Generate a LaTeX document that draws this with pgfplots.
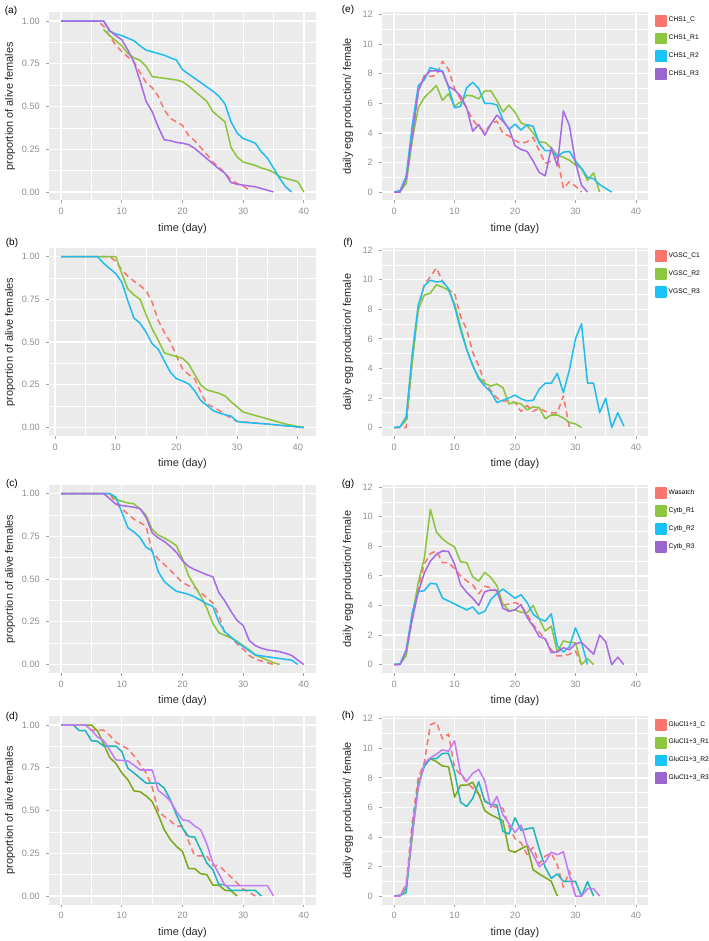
\documentclass[border=0pt]{standalone}
\usepackage{pgfplots}
\pgfplotsset{compat=1.18}
\usepackage{fontspec}
\setmainfont{Liberation Sans}

\definecolor{panelgray}{HTML}{EBEBEB}
\definecolor{labgray}{HTML}{8F8F8F}
\definecolor{tickgray}{HTML}{A0A0A0}
\definecolor{cRed}{HTML}{F8766D}
\definecolor{cGreen}{HTML}{8CC43C}
\definecolor{cCyan}{HTML}{22BDEE}
\definecolor{cPurple}{HTML}{A96AE6}
\definecolor{dGreen}{HTML}{7CA81A}
\definecolor{dTeal}{HTML}{1FB5BA}
\definecolor{dPurple}{HTML}{C47BFA}
\definecolor{lGreen}{HTML}{8DC63F}
\definecolor{lCyan}{HTML}{19C3F5}
\definecolor{lPurple}{HTML}{9966CC}

\pgfplotsset{
  gg/.style={
    scale only axis, height=141pt,
    axis background/.style={fill=panelgray},
    axis line style={draw=none},
    tick align=outside, tick pos=left,
    major tick length=2.2pt, minor tick length=0pt,
    tick style={color=tickgray, line width=0.6pt},
    grid=both,
    major grid style={white, line width=1pt},
    minor grid style={white, line width=0.45pt},
    xtick={0,10,20,30,40}, xticklabels={0,10,20,30,40},
    minor xtick={5,15,25,35},
    ticklabel style={font=\fontsize{6.9}{7.5}\selectfont, color=labgray},
    yticklabel style={xshift=-1.2pt},
    label style={font=\fontsize{8.2}{9}\selectfont, color=black!85},
    xlabel={time (day)},
    xlabel style={at={(axis description cs:0.5,-0.149)}, anchor=center},
    every axis plot/.append style={line width=1.15pt, line join=round},
  },
  surv/.style={gg, width=200.25pt, xmin=-2, xmax=42, ymin=-0.05, ymax=1.05,
    ytick={0,0.25,0.5,0.75,1}, yticklabels={0.00,0.25,0.50,0.75,1.00},
    minor ytick={0.125,0.375,0.625,0.875},
    ylabel={proportion of alive females},
    ylabel style={at={(axis description cs:-0.146,0.5)}, anchor=center}},
  egg/.style={gg, width=199.5pt, xmin=-2, xmax=42, ymin=-0.57, ymax=12.15,
    ytick={0,2,4,6,8,10,12}, yticklabels={0,2,4,6,8,10,12},
    minor ytick={1,3,5,7,9,11},
    ylabel={daily egg production/ female},
    ylabel style={at={(axis description cs:-0.128,0.5)}, anchor=center},
    legend style={draw=none, fill=none, at={(axis description cs:1.026,0.99)},
      anchor=north west, font=\fontsize{5}{5.5}\selectfont, row sep=4.5pt,
      inner sep=0pt, nodes={inner sep=1.5pt}},
    legend cell align=left,
    legend image code/.code={\fill[##1] (0pt,-3.9pt) rectangle (7.5pt,3.9pt);}},
  dsh/.style={dash pattern=on 4.5pt off 3pt},
}

\begin{document}
\begin{tikzpicture}
\path[use as bounding box] (0pt,0pt) rectangle (531.75pt,705.75pt);

% (a)
\begin{axis}[surv, at={(36.75pt,555.375pt)}, anchor=south west]
\addplot[cRed, dsh] coordinates {(0,1)(6,1)(7,0.97)(8,0.91)(9,0.86)(10,0.82)(11,0.79)(12,0.76)(13,0.70)(14,0.64)(15,0.61)(16,0.56)(17,0.48)(18,0.43)(19,0.41)(20,0.39)(21,0.33)(22,0.30)(23,0.26)(24,0.22)(25,0.175)(26,0.145)(27,0.11)(28,0.07)(29,0.05)(30,0.035)(31,0.01)};
\addplot[cGreen] coordinates {(7,0.95)(8,0.915)(9,0.885)(10,0.855)(11,0.81)(12,0.785)(13,0.77)(14,0.735)(15,0.675)(16,0.67)(17,0.665)(18,0.66)(19,0.655)(20,0.645)(21,0.62)(22,0.59)(23,0.56)(24,0.53)(25,0.47)(26,0.44)(27,0.41)(28,0.26)(29,0.205)(30,0.175)(31,0.165)(32,0.155)(33,0.14)(34,0.13)(35,0.115)(36,0.09)(37,0.08)(38,0.07)(39,0.06)(40,0)};
\addplot[cCyan] coordinates {(0,1)(7,1)(8,0.94)(9,0.925)(10,0.915)(11,0.90)(12,0.885)(13,0.855)(14,0.83)(15,0.82)(16,0.81)(17,0.80)(18,0.785)(19,0.772)(20,0.715)(21,0.69)(22,0.665)(23,0.64)(24,0.615)(25,0.59)(26,0.56)(27,0.515)(28,0.41)(29,0.345)(30,0.312)(31,0.30)(32,0.285)(33,0.235)(34,0.197)(35,0.14)(36,0.08)(37,0.03)(38,0)};
\addplot[cPurple] coordinates {(0,1)(7,1)(8,0.945)(9,0.915)(10,0.89)(11,0.83)(12,0.76)(13,0.65)(14,0.53)(15,0.47)(16,0.38)(17,0.305)(18,0.30)(19,0.29)(20,0.285)(21,0.277)(22,0.255)(23,0.225)(24,0.195)(25,0.165)(26,0.135)(27,0.11)(28,0.055)(29,0.045)(30,0.04)(31,0.035)(32,0.03)(33,0.02)(34,0.01)(35,0)};
\end{axis}

% (b)
\begin{axis}[surv, xmin=-1, xmax=43, at={(36.75pt,378.75pt)}, anchor=south west]
\addplot[cRed, dsh] coordinates {(1,1)(9,1)(10,0.973)(11,0.92)(12,0.885)(13,0.856)(14,0.83)(15,0.80)(16,0.733)(17,0.626)(18,0.557)(19,0.50)(20,0.42)(21,0.343)(22,0.31)(23,0.285)(24,0.207)(25,0.138)(26,0.12)(27,0.10)(28,0.075)(29,0.055)(30,0.035)(32,0.03)(35,0.02)(38,0.01)(41,0)};
\addplot[cGreen] coordinates {(1,1)(10,1)(11,0.90)(12,0.81)(13,0.775)(14,0.75)(15,0.66)(16,0.577)(17,0.51)(18,0.437)(19,0.425)(20,0.415)(21,0.405)(22,0.372)(23,0.31)(24,0.25)(25,0.22)(26,0.21)(27,0.20)(28,0.185)(29,0.15)(30,0.12)(31,0.09)(32,0.08)(33,0.07)(34,0.06)(35,0.05)(36,0.04)(37,0.03)(38,0.02)(39,0.013)(40,0.006)(41,0)};
\addplot[cCyan] coordinates {(1,1)(7,1)(8,0.96)(9,0.93)(10,0.90)(11,0.85)(12,0.74)(13,0.64)(14,0.61)(15,0.557)(16,0.49)(17,0.458)(18,0.39)(19,0.323)(20,0.285)(21,0.272)(22,0.255)(23,0.215)(24,0.158)(25,0.13)(26,0.10)(27,0.085)(28,0.075)(29,0.066)(30,0.035)(31,0.03)(35,0.02)(38,0.01)(41,0)};
\end{axis}

% (c)
\begin{axis}[surv, at={(36.75pt,201pt)}, anchor=south west]
\addplot[cRed, dsh] coordinates {(0,1)(8,1)(9,0.944)(10,0.91)(11,0.88)(12,0.85)(13,0.83)(14,0.81)(15,0.66)(16,0.617)(17,0.585)(18,0.55)(19,0.515)(20,0.48)(21,0.46)(22,0.45)(23,0.42)(24,0.39)(25,0.36)(26,0.286)(27,0.18)(28,0.155)(29,0.12)(30,0.09)(31,0.052)(32,0.03)(33,0.02)(34,0.01)(35,0)};
\addplot[cGreen] coordinates {(0,1)(8,1)(9,0.967)(10,0.955)(11,0.945)(12,0.94)(13,0.91)(14,0.873)(15,0.79)(16,0.757)(17,0.74)(18,0.72)(19,0.695)(20,0.617)(21,0.52)(22,0.46)(23,0.40)(24,0.33)(25,0.24)(26,0.185)(27,0.17)(28,0.155)(29,0.135)(30,0.11)(31,0.085)(32,0.055)(33,0.04)(34,0.025)(35,0.01)(36,0)};
\addplot[cCyan] coordinates {(0,1)(8,1)(9,0.98)(10,0.89)(11,0.80)(12,0.775)(13,0.743)(14,0.685)(15,0.665)(16,0.543)(17,0.485)(18,0.455)(19,0.428)(20,0.42)(21,0.41)(22,0.395)(23,0.375)(24,0.355)(25,0.34)(26,0.247)(27,0.19)(28,0.16)(29,0.13)(30,0.105)(31,0.08)(32,0.056)(33,0.05)(34,0.045)(35,0.04)(36,0.035)(37,0.03)(38,0.025)(39,0)};
\addplot[cPurple] coordinates {(0,1)(7,1)(8,0.97)(9,0.938)(10,0.93)(11,0.925)(12,0.92)(13,0.912)(14,0.86)(15,0.77)(16,0.74)(17,0.72)(18,0.69)(19,0.656)(20,0.607)(21,0.574)(22,0.555)(23,0.54)(24,0.525)(25,0.513)(26,0.42)(27,0.37)(28,0.31)(29,0.257)(30,0.228)(31,0.14)(32,0.11)(33,0.095)(34,0.085)(35,0.08)(36,0.075)(37,0.065)(38,0.053)(39,0.025)(40,0)};
\end{axis}

% (d)
\begin{axis}[surv, at={(36.75pt,27.375pt)}, anchor=south west]
\addplot[cRed, dsh] coordinates {(0,1)(4,1)(5,0.97)(7,0.97)(8,0.94)(9,0.90)(10,0.88)(11,0.86)(12,0.82)(13,0.77)(14,0.72)(15,0.636)(16,0.50)(17,0.465)(18,0.44)(19,0.407)(20,0.41)(21,0.32)(22,0.235)(24,0.235)(25,0.177)(26,0.177)(27,0.144)(28,0.11)(29,0.076)(30,0.04)(31,0.02)(32,0)};
\addplot[dGreen] coordinates {(0,1)(5,1)(6,0.965)(7,0.89)(8,0.81)(9,0.776)(10,0.72)(11,0.68)(12,0.615)(13,0.61)(14,0.585)(15,0.552)(16,0.475)(17,0.387)(18,0.33)(19,0.29)(20,0.26)(21,0.16)(22,0.16)(23,0.13)(24,0.125)(25,0.064)(26,0.064)(27,0.033)(28,0.03)(29,0)};
\addplot[dTeal] coordinates {(0,1)(2,1)(3,0.967)(4,0.967)(5,0.908)(6,0.905)(7,0.877)(9,0.877)(10,0.845)(11,0.747)(12,0.72)(13,0.69)(14,0.66)(16,0.66)(17,0.63)(18,0.562)(19,0.475)(20,0.397)(21,0.348)(22,0.345)(23,0.27)(24,0.193)(25,0.154)(26,0.066)(27,0.066)(28,0.033)(32,0.033)(33,0)};
\addplot[dPurple] coordinates {(0,1)(4,1)(5,0.97)(6,0.93)(7,0.91)(8,0.855)(9,0.796)(11,0.79)(12,0.765)(13,0.737)(15,0.737)(16,0.617)(17,0.59)(18,0.555)(19,0.494)(20,0.445)(21,0.44)(22,0.41)(23,0.387)(24,0.305)(25,0.193)(26,0.13)(27,0.06)(34,0.06)(35,0)};
\end{axis}

% (e)
\begin{axis}[egg, at={(286.5pt,555.375pt)}, anchor=south west]
\addplot[cRed, dsh, forget plot] coordinates {(0,0)(1,0.05)(2,0.9)(3,3.5)(4,6.8)(5,7.9)(6,7.83)(7,7.9)(8,8.85)(9,8.3)(10,7.0)(11,6.3)(12,5.7)(13,4.9)(14,4.4)(15,4.07)(16,4.6)(17,4.8)(18,3.96)(19,3.8)(20,3.5)(21,3.29)(22,3.4)(23,3.69)(24,2.8)(25,1.94)(26,2.1)(27,2.4)(28,0.25)(29,0.7)(30,0.4)(31,0)};
\addplot[cGreen, forget plot] coordinates {(0,0)(1,0.05)(2,0.58)(3,3.5)(4,5.7)(5,6.4)(6,6.8)(7,7.2)(8,6.2)(9,6.66)(10,5.8)(11,6.1)(12,6.55)(13,6.5)(14,6.3)(15,6.84)(16,6.85)(17,6.2)(18,5.43)(19,5.88)(20,5.4)(21,4.68)(22,4.5)(23,4.0)(24,3.4)(25,3.35)(26,3.0)(27,2.5)(28,2.35)(29,2.15)(30,1.85)(31,1.6)(32,0.79)(33,1.3)(34,0)};
\addplot[cCyan, forget plot] coordinates {(0,0)(1,0.1)(2,1.08)(3,4.5)(4,7.2)(5,7.6)(6,8.42)(7,8.3)(8,8.2)(9,7.1)(10,5.7)(11,5.8)(12,7.05)(13,7.43)(14,7.0)(15,5.99)(16,6.0)(17,5.9)(18,4.9)(19,4.23)(20,4.6)(21,4.2)(22,4.55)(23,4.45)(24,3.3)(25,2.8)(26,2.8)(27,2.4)(28,2.7)(29,2.75)(30,2.1)(31,1.6)(32,1.0)(33,0.9)(34,0.5)(35,0.25)(36,0)};
\addplot[cPurple, forget plot] coordinates {(0,0)(1,0)(2,0.9)(3,3.8)(4,6.84)(5,7.8)(6,8.2)(7,8.2)(8,8.15)(9,7.16)(10,6.9)(11,6.5)(12,5.7)(13,4.12)(14,4.57)(15,3.85)(16,4.6)(17,5.2)(18,4.8)(19,4.3)(20,3.13)(21,2.88)(22,2.75)(23,2.1)(24,1.33)(25,1.1)(26,3.0)(27,1.76)(28,5.49)(29,4.5)(30,2.0)(31,0.47)(32,0)};
\addlegendimage{cRed}\addlegendentry{CHS1\_C}
\addlegendimage{lGreen}\addlegendentry{CHS1\_R1}
\addlegendimage{lCyan}\addlegendentry{CHS1\_R2}
\addlegendimage{lPurple}\addlegendentry{CHS1\_R3}
\end{axis}

% (f)
\begin{axis}[egg, at={(286.5pt,378.75pt)}, anchor=south west]
\addplot[cRed, dsh, forget plot] coordinates {(0,0)(2,0)(3,4.5)(4,8.0)(5,9.7)(6,10.2)(7,10.8)(8,9.9)(9,9.3)(10,9.1)(11,7.5)(12,6.64)(13,5.1)(14,4.16)(15,3.0)(16,2.5)(17,2.0)(18,1.8)(19,1.8)(20,1.7)(21,1.08)(22,1.5)(23,1.1)(24,1.3)(25,1.1)(26,1.0)(27,1.0)(28,2.14)(29,0)};
\addplot[cGreen, forget plot] coordinates {(0,0)(1,0.05)(2,0.5)(3,4.5)(4,8.0)(5,8.96)(6,9.1)(7,9.66)(8,9.5)(9,9.3)(10,8.4)(11,6.8)(12,5.3)(13,4.2)(14,3.4)(15,2.99)(16,2.8)(17,2.95)(18,2.7)(19,1.6)(20,1.7)(21,1.6)(22,1.2)(23,1.4)(24,1.35)(25,0.6)(26,0.85)(27,0.85)(28,0.65)(29,0.35)(30,0.25)(31,0)};
\addplot[cCyan, forget plot] coordinates {(0,0)(1,0.05)(2,0.74)(3,5.0)(4,8.3)(5,9.6)(6,9.97)(7,9.85)(8,9.9)(9,9.4)(10,8.2)(11,6.6)(12,5.3)(13,4.2)(14,3.3)(15,2.8)(16,2.4)(17,1.69)(18,1.85)(19,2.0)(20,2.2)(21,1.95)(22,1.8)(23,1.85)(24,2.6)(25,3.0)(26,3.0)(27,3.67)(28,2.36)(29,3.9)(30,6.0)(31,7.02)(32,3.0)(33,3.0)(34,1.01)(35,1.98)(36,0)(37,1.0)(38,0.1)};
\addlegendimage{cRed}\addlegendentry{VGSC\_C1}
\addlegendimage{lGreen}\addlegendentry{VGSC\_R2}
\addlegendimage{lCyan}\addlegendentry{VGSC\_R3}
\end{axis}

% (g)
\begin{axis}[egg, at={(286.5pt,201pt)}, anchor=south west]
\addplot[cRed, dsh, forget plot] coordinates {(0,0)(1,0.05)(2,0.8)(3,3.0)(4,5.2)(5,6.8)(6,7.5)(7,7.7)(8,6.9)(9,6.9)(10,6.5)(11,6.0)(12,5.67)(13,5.4)(14,4.8)(15,5.3)(16,5.2)(17,5.0)(18,4.0)(19,4.1)(20,4.2)(21,4.0)(22,3.4)(23,2.7)(24,2.2)(25,1.7)(26,1.0)(27,0.58)(28,0.6)(29,0.7)(30,0.92)(31,0)};
\addplot[cGreen, forget plot] coordinates {(0,0)(1,0.05)(2,0.6)(3,3.3)(4,5.56)(5,7.2)(6,10.5)(7,8.97)(8,8.5)(9,8.2)(10,7.96)(11,6.95)(12,6.9)(13,5.94)(14,5.65)(15,6.24)(16,5.9)(17,5.34)(18,4.1)(19,3.65)(20,3.7)(21,3.54)(22,3.5)(23,4.0)(24,3.1)(25,2.27)(26,2.6)(27,0.85)(28,1.6)(29,1.5)(30,1.48)(31,0)(32,0.4)(33,0)};
\addplot[cCyan, forget plot] coordinates {(0,0)(1,0.05)(2,1.0)(3,3.5)(4,4.93)(5,5.0)(6,5.5)(7,5.45)(8,4.5)(9,4.3)(10,4.1)(11,3.9)(12,3.7)(13,3.9)(14,3.43)(15,3.6)(16,4.4)(17,4.8)(18,5.11)(19,4.8)(20,4.49)(21,4.73)(22,4.2)(23,3.4)(24,3.1)(25,2.94)(26,3.43)(27,1.26)(28,0.85)(29,1.2)(30,2.49)(31,1.5)(32,0)};
\addplot[cPurple, forget plot] coordinates {(0,0)(1,0)(2,0.9)(3,3.1)(4,4.9)(5,6.2)(6,7.0)(7,7.45)(8,7.69)(9,7.65)(10,6.8)(11,5.4)(12,4.9)(13,4.49)(14,4.0)(15,4.93)(16,5.05)(17,5.0)(18,3.81)(19,3.6)(20,3.7)(21,4.06)(22,3.2)(23,2.6)(24,1.9)(25,1.75)(26,0.81)(27,0.85)(28,1.14)(29,1.0)(30,1.41)(31,1.5)(32,1.1)(33,0.7)(34,2.0)(35,1.55)(36,0)(37,0.5)(38,0)};
\addlegendimage{cRed}\addlegendentry{Wasatch}
\addlegendimage{lGreen}\addlegendentry{Cytb\_R1}
\addlegendimage{lCyan}\addlegendentry{Cytb\_R2}
\addlegendimage{lPurple}\addlegendentry{Cytb\_R3}
\end{axis}

% (h)
\begin{axis}[egg, at={(286.5pt,27.375pt)}, anchor=south west]
\addplot[cRed, dsh, forget plot] coordinates {(0,0)(1,0.05)(2,0.8)(3,5.0)(4,8.0)(5,9.03)(6,11.59)(7,11.77)(8,10.63)(9,10.97)(10,8.69)(11,8.2)(12,7.7)(13,7.3)(14,6.9)(15,6.5)(16,6.13)(17,6.0)(18,5.94)(19,4.7)(20,3.89)(21,3.6)(22,2.81)(23,3.3)(24,2.2)(25,2.7)(26,2.9)(27,2.1)(28,0.6)(29,1.71)(30,0)};
\addplot[dGreen, forget plot] coordinates {(0,0)(1,0.05)(2,0.5)(3,4.0)(4,7.6)(5,8.8)(6,9.3)(7,9.1)(8,8.8)(9,8.75)(10,6.7)(11,7.5)(12,7.5)(13,7.7)(14,6.9)(15,5.78)(16,5.5)(17,5.3)(18,5.1)(19,3.09)(20,2.97)(21,3.2)(22,3.4)(23,1.78)(24,1.5)(25,1.25)(26,1.0)(27,0)};
\addplot[dTeal, forget plot] coordinates {(0,0)(1,0.05)(2,0.23)(3,4.5)(4,7.5)(5,8.8)(6,9.3)(7,9.3)(8,9.65)(9,9.65)(10,8.4)(11,6.35)(12,6.06)(13,6.6)(14,7.73)(15,6.4)(16,6.2)(17,6.17)(18,4.39)(19,4.2)(20,5.3)(21,4.45)(22,4.55)(23,4.62)(24,3.2)(25,1.94)(26,1.2)(27,1.5)(28,1.0)(29,1.0)(30,1.0)(31,0)(32,0.98)(33,0)};
\addplot[dPurple, forget plot] coordinates {(0,0)(1,0)(2,0.7)(3,4.2)(4,7.3)(5,9.0)(6,9.35)(7,9.6)(8,9.9)(9,9.8)(10,10.5)(11,8.3)(12,7.77)(13,8.3)(14,8.57)(15,7.8)(16,6.0)(17,6.74)(18,5.5)(19,4.9)(20,4.3)(21,4.8)(22,3.5)(23,2.8)(24,1.99)(25,2.3)(26,2.97)(27,2.8)(28,3.0)(29,1.4)(30,0)(31,0)(32,0.5)(33,0.5)(34,0)};
\addlegendimage{cRed}\addlegendentry{GluCl1+3\_C}
\addlegendimage{lGreen}\addlegendentry{GluCl1+3\_R1}
\addlegendimage{lCyan}\addlegendentry{GluCl1+3\_R2}
\addlegendimage{lPurple}\addlegendentry{GluCl1+3\_R3}
\end{axis}

\begin{scope}[every node/.style={font=\fontsize{7.5}{8}\selectfont}]
\node at (8.25pt,697.5pt) {(a)};
\node at (9pt,523.5pt) {(b)};
\node at (9pt,342.75pt) {(c)};
\node at (9pt,168pt) {(d)};
\node at (261pt,698.25pt) {(e)};
\node at (261pt,523.5pt) {(f)};
\node at (261pt,342.75pt) {(g)};
\node at (261pt,168.75pt) {(h)};
\end{scope}
\end{tikzpicture}
\end{document}
